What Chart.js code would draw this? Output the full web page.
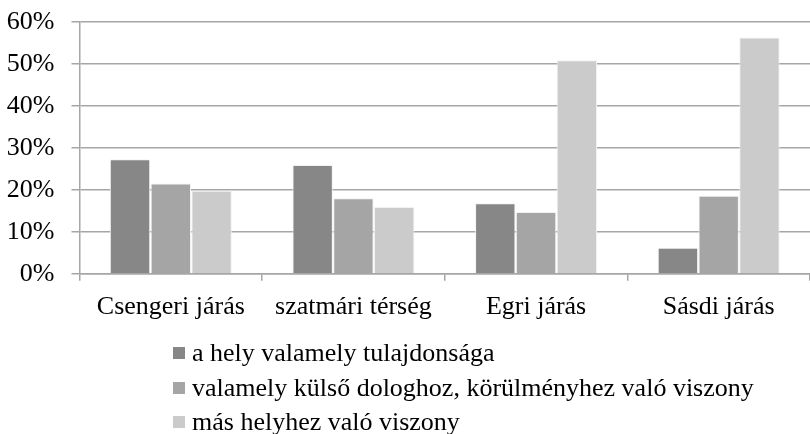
<!DOCTYPE html>
<html>
<head>
<meta charset="utf-8">
<script src="https://cdn.jsdelivr.net/npm/chart.js@4/dist/chart.umd.min.js"></script>
<style>
    html, body { margin: 0; padding: 0; background: #fff; }
    #wrap { position: relative; width: 810px; height: 434px; }
    #legend {
        position: absolute; left: 173px; top: 336px;
        font-family: "Liberation Serif", serif; font-size: 26px; color: #000;
    }
    #legend div { display: flex; align-items: center; height: 34.5px; white-space: nowrap; }
    #legend span.box {
        display: inline-block; width: 12px; height: 12px; margin-right: 7px;
    }
</style>
</head>
<body>
<div id="wrap">
    <canvas id="myChart" width="810" height="434"></canvas>
    <div id="legend"></div>
</div>
<script>
// ------------------------------
// Data
// ------------------------------
const categories = ['Csengeri járás', 'szatmári térség', 'Egri járás', 'Sásdi járás'];
const seriesNames = [
    'a hely valamely tulajdonsága',
    'valamely külső dologhoz, körülményhez való viszony',
    'más helyhez való viszony'
];
const tulajdonsag = [27.3, 25.9, 16.8, 6.2];
const kulsoViszony = [21.5, 18.0, 14.7, 18.6];
const masHely = [19.8, 15.9, 50.9, 56.3];
const yTicks = [0, 10, 20, 30, 40, 50, 60];

const colors = ['#878787', '#a5a5a5', '#cbcbcb'];
const font = { family: '"Liberation Serif", serif', size: 26 };

const c = document.getElementById('myChart').getContext('2d');

const chart = new Chart(c, {
    type: 'bar',
    data: {
        labels: categories,
        datasets: [tulajdonsag, kulsoViszony, masHely].map((d, i) => ({
            label: seriesNames[i],
            data: d,
            backgroundColor: colors[i],
            borderColor: '#f2f2f2',
            borderWidth: 1,
            categoryPercentage: 0.67,
            barPercentage: 0.99
        }))
    },
    options: {
        responsive: false,
        animation: false,
        layout: { padding: { left: 7, top: 22, right: 0, bottom: 100 } },
        plugins: {
            legend: { display: false },
            tooltip: { enabled: false }
        },
        scales: {
            x: {
                offset: true,
                afterFit: axis => { axis.paddingLeft = 0; axis.paddingRight = 0; },
                grid: {
                    offset: true,
                    drawOnChartArea: false,
                    drawTicks: true,
                    tickLength: 7,
                    color: '#a6a6a6',
                    lineWidth: 1.5
                },
                border: { color: '#a6a6a6', width: 1.5 },
                ticks: { font: font, color: '#000', padding: 11, maxRotation: 0 }
            },
            y: {
                min: 0,
                max: 60,
                afterBuildTicks: axis => { axis.ticks = yTicks.map(v => ({ value: v })); },
                // fixed axis width so the plot starts where the reference does
                afterFit: axis => { axis.paddingTop = 0; axis.paddingBottom = 0; axis.width = 72.5; },
                grid: { color: '#a6a6a6', lineWidth: 1.5, tickLength: 8 },
                border: { color: '#a6a6a6', width: 1.5 },
                ticks: { font: font, color: '#000', padding: 17, callback: v => v + '%' }
            }
        }
    }
});

// ------------------------------
// Vertical legend below the chart
// ------------------------------
const legendEl = document.getElementById('legend');
chart.data.datasets.forEach(ds => {
    const row = document.createElement('div');
    const box = document.createElement('span');
    box.className = 'box';
    box.style.background = ds.backgroundColor;
    row.appendChild(box);
    row.appendChild(document.createTextNode(ds.label));
    legendEl.appendChild(row);
});
</script>
</body>
</html>
